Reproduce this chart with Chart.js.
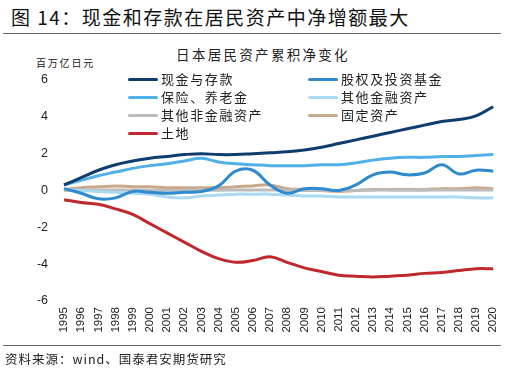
<!DOCTYPE html>
<html>
<head>
<meta charset="utf-8">
<script src="https://cdn.jsdelivr.net/npm/chart.js@4"></script>
<style>
    body {
        margin: 0;
        width: 513px;
        height: 372px;
        position: relative;
        overflow: hidden;
        background: #fff;
        font-family: "Noto Sans CJK SC", "Liberation Sans", sans-serif;
        color: #222;
    }
    .abs { position: absolute; white-space: nowrap; }
    #fig-title { left: 11px; top: 3px; font-size: 19px; letter-spacing: 1.5px; color: #111; }
    #rule-top { left: 3px; top: 33px; width: 498px; height: 1px; background: #666; }
    #chart-title { left: 0; width: 526px; text-align: center; top: 44px; font-size: 13.5px; letter-spacing: 2.3px; }
    #unit { left: 36px; top: 55px; font-size: 10px; letter-spacing: 1.8px; }
    #chart-box { left: 0; top: 0; width: 513px; height: 372px; }
    #rule-bottom { left: 3px; top: 345px; width: 498px; height: 1px; background: #666; }
    #source { left: 5px; top: 349px; font-size: 12.5px; letter-spacing: 1px; }
    .legend-item { position: absolute; font-size: 13px; letter-spacing: 1.6px; line-height: 16px; }
    .legend-item span.swatch {
        display: inline-block; width: 30px; height: 3px; border-radius: 2px;
        vertical-align: middle; margin-right: 3px; position: relative; top: -1px;
    }
</style>
</head>
<body>
<div class="abs" id="fig-title">图 14：现金和存款在居民资产中净增额最大</div>
<div class="abs" id="rule-top"></div>
<div class="abs" id="chart-title">日本居民资产累积净变化</div>
<div class="abs" id="unit">百万亿日元</div>
<div class="abs" id="chart-box"><canvas id="asset-chart"></canvas></div>
<div id="legend"></div>
<div class="abs" id="rule-bottom"></div>
<div class="abs" id="source">资料来源：wind、国泰君安期货研究</div>

<script>
const years = ['1995', '1996', '1997', '1998', '1999', '2000', '2001', '2002', '2003', '2004',
    '2005', '2006', '2007', '2008', '2009', '2010', '2011', '2012', '2013', '2014',
    '2015', '2016', '2017', '2018', '2019', '2020'];

const yTicks = [6, 4, 2, 0, -2, -4, -6];

// 百万亿日元
const cashDeposits = [0.3, 0.7, 1.1, 1.4, 1.6, 1.75, 1.85, 1.95, 2.0, 1.95,
    1.95, 2.0, 2.05, 2.1, 2.2, 2.35, 2.55, 2.75, 2.95, 3.15,
    3.35, 3.55, 3.75, 3.85, 4.05, 4.55];
const equityFunds = [0.1, -0.15, -0.45, -0.4, -0.05, -0.1, -0.15, -0.1, -0.05, 0.25,
    1.05, 1.1, 0.3, -0.15, 0.1, 0.1, 0.0, 0.3, 0.85, 1.0,
    0.85, 0.95, 1.4, 0.9, 1.1, 1.05];
const insurancePension = [0.3, 0.55, 0.8, 1.0, 1.2, 1.35, 1.45, 1.6, 1.75, 1.55,
    1.45, 1.4, 1.35, 1.35, 1.35, 1.4, 1.4, 1.5, 1.65, 1.75,
    1.8, 1.8, 1.85, 1.85, 1.9, 1.95];
const otherFinancial = [0.05, 0.0, -0.05, -0.1, -0.15, -0.2, -0.35, -0.4, -0.3, -0.25,
    -0.2, -0.2, -0.2, -0.25, -0.3, -0.3, -0.35, -0.35, -0.35, -0.35,
    -0.35, -0.35, -0.35, -0.35, -0.4, -0.4];
const otherNonFinancial = [0.0, 0.02, 0.03, 0.03, 0.03, 0.02, 0.02, 0.02, 0.02, 0.02,
    0.03, 0.03, 0.03, 0.02, 0.0, 0.0, 0.0, 0.0, 0.02, 0.02,
    0.02, 0.02, 0.03, 0.03, 0.03, 0.03];
const fixedAssets = [0.05, 0.15, 0.2, 0.25, 0.2, 0.2, 0.15, 0.15, 0.15, 0.15,
    0.2, 0.25, 0.3, 0.1, 0.05, 0.0, -0.05, 0.0, 0.05, 0.05,
    0.05, 0.05, 0.1, 0.1, 0.15, 0.1];
const land = [-0.5, -0.65, -0.75, -1.0, -1.3, -1.8, -2.3, -2.8, -3.3, -3.7,
    -3.9, -3.8, -3.6, -3.9, -4.2, -4.4, -4.6, -4.65, -4.7, -4.65,
    -4.6, -4.5, -4.45, -4.35, -4.25, -4.25];

const series = [
    { label: '现金与存款', data: cashDeposits, color: '#0e3d6e', col: 0, row: 0 },
    { label: '股权及投资基金', data: equityFunds, color: '#2f8ad0', col: 1, row: 0 },
    { label: '保险、养老金', data: insurancePension, color: '#4fb1e8', col: 0, row: 1 },
    { label: '其他金融资产', data: otherFinancial, color: '#a9d9f3', col: 1, row: 1 },
    { label: '其他非金融资产', data: otherNonFinancial, color: '#bcbcbc', col: 0, row: 2 },
    { label: '固定资产', data: fixedAssets, color: '#c9a98a', col: 1, row: 2 },
    { label: '土地', data: land, color: '#c0282d', col: 0, row: 3 }
];

function buildLegend() {
    const box = document.getElementById('legend');
    const colX = [128, 308];
    series.forEach(s => {
        const item = document.createElement('div');
        item.className = 'legend-item';
        item.style.left = colX[s.col] + 'px';
        item.style.top = (71 + s.row * 18) + 'px';
        item.innerHTML = `<span class="swatch" style="background:${s.color}"></span>${s.label}`;
        box.appendChild(item);
    });
}

function renderChart() {
    const ctx = document.getElementById('asset-chart').getContext('2d');

    new Chart(ctx, {
        type: 'line',
        data: {
            labels: years,
            datasets: series.map(s => ({
                label: s.label,
                data: s.data,
                borderColor: s.color,
                backgroundColor: s.color,
                borderWidth: 3,
                pointRadius: 0,
                tension: 0.4,
                fill: false
            }))
        },
        options: {
            responsive: true,
            maintainAspectRatio: false,
            animation: false,
            layout: {
                padding: { top: 80, right: 18, bottom: 31, left: 0 }
            },
            plugins: {
                legend: { display: false },
                tooltip: { enabled: false }
            },
            scales: {
                x: {
                    grid: { display: false, drawTicks: false },
                    border: { display: false },
                    ticks: {
                        minRotation: 90,
                        maxRotation: 90,
                        autoSkip: false,
                        padding: 6,
                        color: '#222',
                        font: { family: 'Liberation Sans', size: 11.5 }
                    },
                    afterFit: scale => { scale.height = 40; }
                },
                y: {
                    min: -6,
                    max: 6,
                    afterBuildTicks: scale => {
                        scale.ticks = yTicks.map(v => ({ value: v }));
                    },
                    grid: { display: false, drawTicks: false },
                    border: { display: false },
                    ticks: {
                        padding: 16,
                        color: '#222',
                        font: { family: 'Liberation Sans', size: 12.5 }
                    },
                    afterFit: scale => { scale.width = 64; }
                }
            }
        }
    });
}

document.addEventListener('DOMContentLoaded', () => {
    buildLegend();
    renderChart();
});
</script>
</body>
</html>
